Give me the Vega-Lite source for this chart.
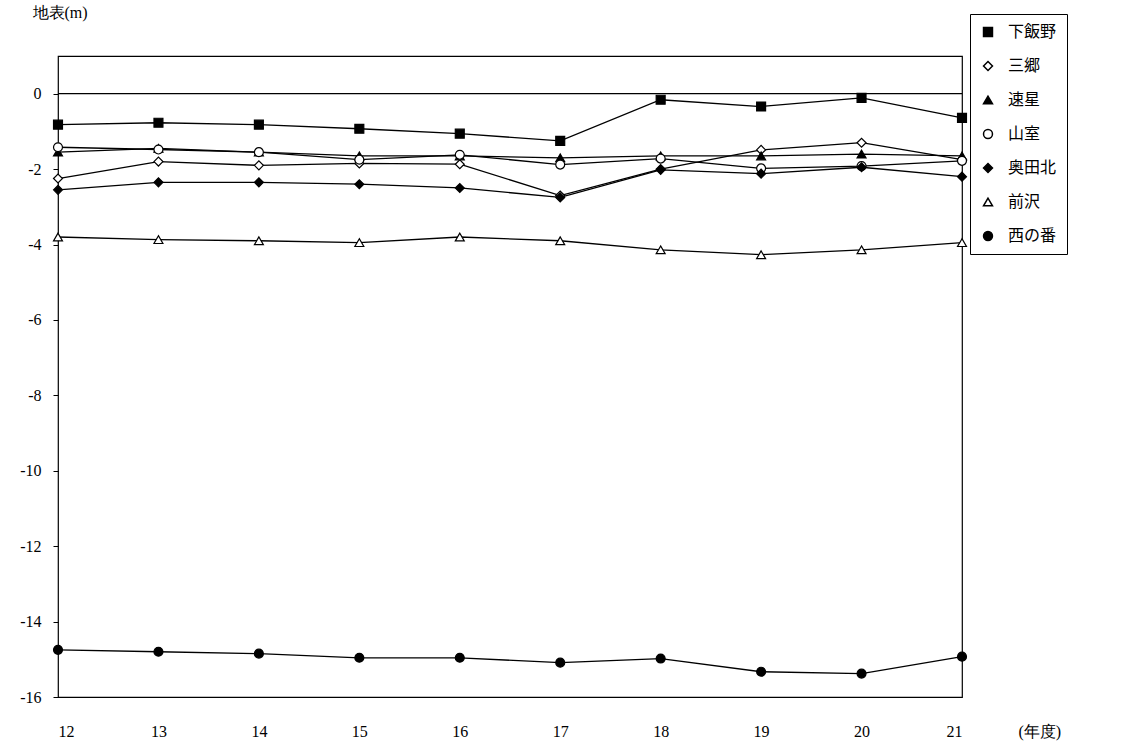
{
  "$schema": "https://vega.github.io/schema/vega-lite/v6.json",
  "width": 904,
  "height": 641,
  "autosize": "none",
  "padding": {"left": 58, "top": 56, "right": 172, "bottom": 50},
  "config": {
    "font": "Liberation Serif, serif",
    "view": {"stroke": "black", "strokeWidth": 1.2},
    "axis": {"grid": false, "domain": false, "labelFont": "Liberation Serif, serif", "labelFontSize": 16, "labelColor": "black", "titleFont": "Liberation Serif, serif", "titleFontWeight": "normal", "titleFontSize": 16, "titleColor": "black"},
    "legend": {"labelFont": "Liberation Serif, Noto Sans CJK JP, serif"}
  },
  "data": {"values": [
    {"y": 12, "s": "下飯野", "v": -0.82}, {"y": 13, "s": "下飯野", "v": -0.77}, {"y": 14, "s": "下飯野", "v": -0.82}, {"y": 15, "s": "下飯野", "v": -0.93}, {"y": 16, "s": "下飯野", "v": -1.06}, {"y": 17, "s": "下飯野", "v": -1.25}, {"y": 18, "s": "下飯野", "v": -0.16}, {"y": 19, "s": "下飯野", "v": -0.34}, {"y": 20, "s": "下飯野", "v": -0.11}, {"y": 21, "s": "下飯野", "v": -0.64},
    {"y": 12, "s": "三郷", "v": -2.25}, {"y": 13, "s": "三郷", "v": -1.8}, {"y": 14, "s": "三郷", "v": -1.9}, {"y": 15, "s": "三郷", "v": -1.85}, {"y": 16, "s": "三郷", "v": -1.87}, {"y": 17, "s": "三郷", "v": -2.7}, {"y": 18, "s": "三郷", "v": -2.0}, {"y": 19, "s": "三郷", "v": -1.49}, {"y": 20, "s": "三郷", "v": -1.3}, {"y": 21, "s": "三郷", "v": -1.75},
    {"y": 12, "s": "速星", "v": -1.55}, {"y": 13, "s": "速星", "v": -1.45}, {"y": 14, "s": "速星", "v": -1.55}, {"y": 15, "s": "速星", "v": -1.65}, {"y": 16, "s": "速星", "v": -1.65}, {"y": 17, "s": "速星", "v": -1.7}, {"y": 18, "s": "速星", "v": -1.65}, {"y": 19, "s": "速星", "v": -1.65}, {"y": 20, "s": "速星", "v": -1.6}, {"y": 21, "s": "速星", "v": -1.65},
    {"y": 12, "s": "山室", "v": -1.42}, {"y": 13, "s": "山室", "v": -1.48}, {"y": 14, "s": "山室", "v": -1.55}, {"y": 15, "s": "山室", "v": -1.75}, {"y": 16, "s": "山室", "v": -1.62}, {"y": 17, "s": "山室", "v": -1.88}, {"y": 18, "s": "山室", "v": -1.72}, {"y": 19, "s": "山室", "v": -1.98}, {"y": 20, "s": "山室", "v": -1.92}, {"y": 21, "s": "山室", "v": -1.78},
    {"y": 12, "s": "奥田北", "v": -2.55}, {"y": 13, "s": "奥田北", "v": -2.35}, {"y": 14, "s": "奥田北", "v": -2.35}, {"y": 15, "s": "奥田北", "v": -2.4}, {"y": 16, "s": "奥田北", "v": -2.5}, {"y": 17, "s": "奥田北", "v": -2.75}, {"y": 18, "s": "奥田北", "v": -2.02}, {"y": 19, "s": "奥田北", "v": -2.12}, {"y": 20, "s": "奥田北", "v": -1.95}, {"y": 21, "s": "奥田北", "v": -2.2},
    {"y": 12, "s": "前沢", "v": -3.8}, {"y": 13, "s": "前沢", "v": -3.87}, {"y": 14, "s": "前沢", "v": -3.9}, {"y": 15, "s": "前沢", "v": -3.95}, {"y": 16, "s": "前沢", "v": -3.8}, {"y": 17, "s": "前沢", "v": -3.9}, {"y": 18, "s": "前沢", "v": -4.14}, {"y": 19, "s": "前沢", "v": -4.27}, {"y": 20, "s": "前沢", "v": -4.14}, {"y": 21, "s": "前沢", "v": -3.95},
    {"y": 12, "s": "西の番", "v": -14.75}, {"y": 13, "s": "西の番", "v": -14.8}, {"y": 14, "s": "西の番", "v": -14.85}, {"y": 15, "s": "西の番", "v": -14.96}, {"y": 16, "s": "西の番", "v": -14.96}, {"y": 17, "s": "西の番", "v": -15.09}, {"y": 18, "s": "西の番", "v": -14.98}, {"y": 19, "s": "西の番", "v": -15.33}, {"y": 20, "s": "西の番", "v": -15.38}, {"y": 21, "s": "西の番", "v": -14.93}
  ]},
  "layer": [
    {
      "mark": {"type": "rule", "color": "black", "strokeWidth": 1.2},
      "data": {"values": [{"z": 0}]},
      "encoding": {"y": {"field": "z", "type": "quantitative"}}
    },
    {
      "mark": {"type": "line", "color": "black", "strokeWidth": 1.3},
      "encoding": {
        "x": {"field": "y", "type": "quantitative", "scale": {"domain": [12, 21], "nice": false},
              "axis": {"values": [12,13,14,15,16,17,18,19,20,21], "format": "d", "ticks": false, "labelPadding": 26, "title": "(年度)", "titleAnchor": "end", "titleAlign": "left", "titleX": 960, "titleY": 26, "titleBaseline": "top"}},
        "y": {"field": "v", "type": "quantitative", "scale": {"domain": [-16, 1], "nice": false, "zero": false},
              "axis": {"values": [0,-2,-4,-6,-8,-10,-12,-14,-16], "labelExpr": "replace(datum.label, '−', '-')", "tickSize": 5, "tickColor": "black", "labelPadding": 12, "title": "地表(m)", "titleAngle": 0, "titleAlign": "left", "titleX": -26, "titleY": -36}},
        "detail": {"field": "s"}
      }
    },
    {
      "mark": {"type": "point", "filled": true, "stroke": "black", "strokeWidth": 1.2, "size": 80, "opacity": 1},
      "encoding": {
        "x": {"field": "y", "type": "quantitative"},
        "y": {"field": "v", "type": "quantitative"},
        "shape": {"field": "s", "type": "nominal",
          "scale": {"domain": ["下飯野","三郷","速星","山室","奥田北","前沢","西の番"], "range": ["square","diamond","triangle-up","circle","diamond","triangle-up","circle"]},
          "legend": {"title": null, "orient": "none", "legendX": 912, "legendY": -42, "padding": 10, "strokeColor": "black", "fillColor": "white", "labelFontSize": 16, "labelColor": "black", "symbolSize": 80, "rowPadding": 18, "labelOffset": 12,
            "encode": {"symbols": {"update": {"stroke": {"value": "black"}, "strokeWidth": {"value": 1.2}, "opacity": {"value": 1}}}}}},
        "fill": {"field": "s", "type": "nominal",
          "scale": {"domain": ["下飯野","三郷","速星","山室","奥田北","前沢","西の番"], "range": ["black","white","black","white","black","white","black"]},
          "legend": {"title": null, "orient": "none", "legendX": 912, "legendY": -42, "padding": 10, "strokeColor": "black", "fillColor": "white", "labelFontSize": 16, "labelColor": "black", "symbolSize": 80, "rowPadding": 18, "labelOffset": 12,
            "encode": {"symbols": {"update": {"stroke": {"value": "black"}, "strokeWidth": {"value": 1.2}, "opacity": {"value": 1}}}}}}
      }
    }
  ]
}
